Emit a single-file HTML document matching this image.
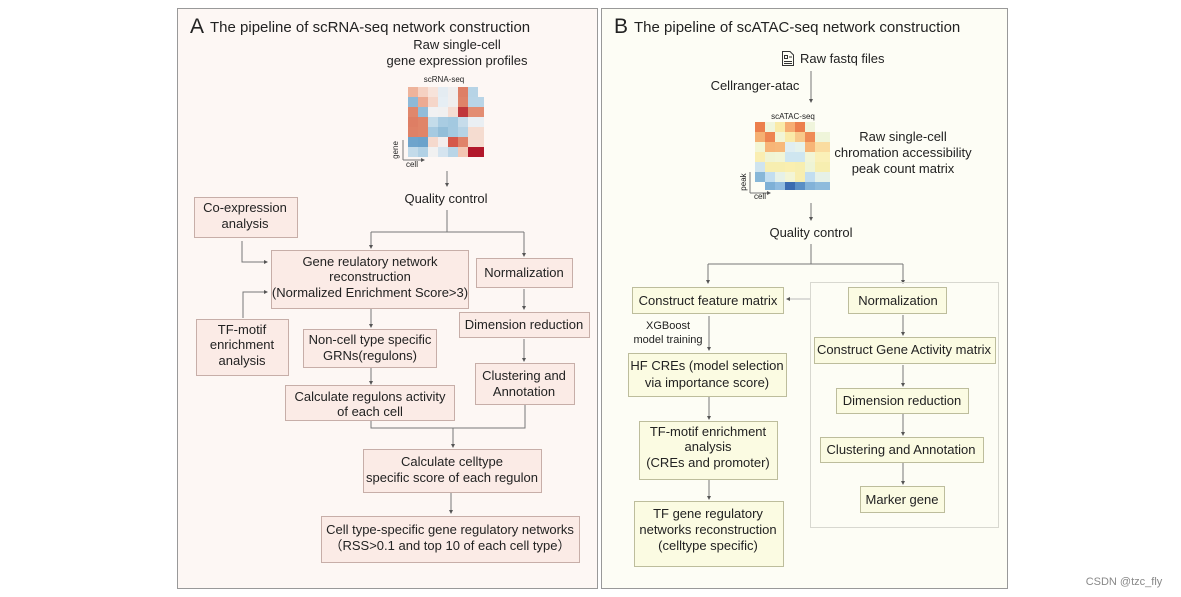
<!DOCTYPE html>
<html><head><meta charset="utf-8"><style>
html,body{margin:0;padding:0;background:#fff;}
svg{display:block;font-family:"Liberation Sans",Arial,sans-serif;}
text{font-size:13px;fill:#222;text-anchor:middle;}
.bl{fill:#fbebe6;stroke:#c7aea8;stroke-width:1;}
.br{fill:#fbfbe2;stroke:#bdbd9c;stroke-width:1;}
.ln{stroke:#777;stroke-width:1;fill:none;}
</style></head><body>
<svg width="1181" height="597" viewBox="0 0 1181 597">
<defs><marker id="a" markerWidth="4" markerHeight="4" refX="3" refY="2" orient="auto"><path d="M0,0 L4,2 L0,4z" fill="#555"/></marker></defs>
<rect x="177.5" y="8.5" width="420" height="580" fill="#fdf7f4" stroke="#999"/>
<rect x="601.5" y="8.5" width="406" height="580" fill="#fdfdf5" stroke="#999"/>
<text x="190" y="33" style="font-size:21px;text-anchor:start">A</text>
<text x="210" y="32" style="font-size:15px;text-anchor:start">The pipeline of scRNA-seq network construction</text>
<text x="614" y="33" style="font-size:21px;text-anchor:start">B</text>
<text x="634" y="32" style="font-size:15px;text-anchor:start">The pipeline of scATAC-seq network construction</text>

<!-- Left -->
<text x="457" y="49">Raw single-cell</text>
<text x="457" y="65">gene expression profiles</text>
<text x="444" y="82" style="font-size:8px">scRNA-seq</text>
<g id="hm1"></g>
<g>
<rect x="408" y="87" width="10" height="10" fill="#eeb39b"/><rect x="418" y="87" width="10" height="10" fill="#f5d1c2"/><rect x="428" y="87" width="10" height="10" fill="#f7e3da"/><rect x="438" y="87" width="10" height="10" fill="#e4ecf2"/><rect x="448" y="87" width="10" height="10" fill="#f0eeee"/><rect x="458" y="87" width="10" height="10" fill="#de7f66"/><rect x="468" y="87" width="10" height="10" fill="#b7d4e6"/>
<rect x="408" y="97" width="10" height="10" fill="#8db9d8"/><rect x="418" y="97" width="10" height="10" fill="#ecaa92"/><rect x="428" y="97" width="10" height="10" fill="#f5d6c9"/><rect x="438" y="97" width="10" height="10" fill="#e6eef4"/><rect x="448" y="97" width="10" height="10" fill="#f0eeee"/><rect x="458" y="97" width="10" height="10" fill="#df8369"/><rect x="468" y="97" width="10" height="10" fill="#b9d5e7"/><rect x="478" y="97" width="6" height="10" fill="#b9d5e7"/>
<rect x="408" y="107" width="10" height="10" fill="#e0876c"/><rect x="418" y="107" width="10" height="10" fill="#92bcd9"/><rect x="428" y="107" width="10" height="10" fill="#f1f1f2"/><rect x="438" y="107" width="10" height="10" fill="#f1f0f0"/><rect x="448" y="107" width="10" height="10" fill="#f5dcd2"/><rect x="458" y="107" width="10" height="10" fill="#c0373b"/><rect x="468" y="107" width="16" height="10" fill="#e38d72"/>
<rect x="408" y="117" width="10" height="10" fill="#de7e64"/><rect x="418" y="117" width="10" height="10" fill="#e08468"/><rect x="428" y="117" width="10" height="10" fill="#c4dcea"/><rect x="438" y="117" width="10" height="10" fill="#a9cce2"/><rect x="448" y="117" width="10" height="10" fill="#a3c9e0"/><rect x="458" y="117" width="10" height="10" fill="#c6dcea"/><rect x="468" y="117" width="16" height="10" fill="#eaeff3"/>
<rect x="408" y="127" width="10" height="10" fill="#df8166"/><rect x="418" y="127" width="10" height="10" fill="#e08468"/><rect x="428" y="127" width="10" height="10" fill="#a6cae1"/><rect x="438" y="127" width="10" height="10" fill="#93bed9"/><rect x="448" y="127" width="10" height="10" fill="#a4c9e0"/><rect x="458" y="127" width="10" height="10" fill="#b6d3e5"/><rect x="468" y="127" width="16" height="10" fill="#f5dcd0"/>
<rect x="408" y="137" width="10" height="10" fill="#6ea4cc"/><rect x="418" y="137" width="10" height="10" fill="#6aa2cb"/><rect x="428" y="137" width="10" height="10" fill="#f5d9cd"/><rect x="438" y="137" width="10" height="10" fill="#f3eded"/><rect x="448" y="137" width="10" height="10" fill="#d5584a"/><rect x="458" y="137" width="10" height="10" fill="#e0836a"/><rect x="468" y="137" width="16" height="10" fill="#f5dcd0"/>
<rect x="408" y="147" width="10" height="10" fill="#c3dbea"/><rect x="418" y="147" width="10" height="10" fill="#b1d1e5"/><rect x="428" y="147" width="10" height="10" fill="#f1f1f1"/><rect x="438" y="147" width="10" height="10" fill="#d5e4ef"/><rect x="448" y="147" width="10" height="10" fill="#b9d5e7"/><rect x="458" y="147" width="10" height="10" fill="#f3c6b3"/><rect x="468" y="147" width="16" height="10" fill="#b2182b"/>
</g>
<path class="ln" d="M403,160 V140 M403,160 H424" marker-end="url(#a)"/>
<text x="398" y="150" style="font-size:8px" transform="rotate(-90 398 150)">gene</text>
<text x="412" y="167" style="font-size:8px">cell</text>

<path class="ln" d="M447,171 V186" marker-end="url(#a)"/>
<text x="446" y="203">Quality control</text>
<path class="ln" d="M447,210 V232 M371,232 H524"/>
<path class="ln" d="M371,232 V248" marker-end="url(#a)"/>
<path class="ln" d="M524,232 V256" marker-end="url(#a)"/>

<rect class="bl" x="194.5" y="197.5" width="103" height="40"/>
<text x="245" y="212">Co-expression</text><text x="245" y="228">analysis</text>
<path class="ln" d="M242,241 V262 H267" marker-end="url(#a)"/>

<rect class="bl" x="271.5" y="250.5" width="197" height="58"/>
<text x="370" y="266">Gene reulatory network</text><text x="370" y="281">reconstruction</text><text x="370" y="297">(Normalized Enrichment Score&gt;3)</text>
<path class="ln" d="M243,318 V292 H267" marker-end="url(#a)"/>

<rect class="bl" x="196.5" y="319.5" width="92" height="56"/>
<text x="242" y="334">TF-motif</text><text x="242" y="349">enrichment</text><text x="242" y="365">analysis</text>

<rect class="bl" x="476.5" y="258.5" width="96" height="29"/>
<text x="524" y="277">Normalization</text>
<path class="ln" d="M524,289 V309" marker-end="url(#a)"/>
<rect class="bl" x="459.5" y="312.5" width="130" height="25"/>
<text x="524" y="329">Dimension reduction</text>
<path class="ln" d="M524,339 V361" marker-end="url(#a)"/>
<rect class="bl" x="475.5" y="363.5" width="99" height="41"/>
<text x="524" y="380">Clustering and</text><text x="524" y="396">Annotation</text>

<path class="ln" d="M371,309 V327" marker-end="url(#a)"/>
<rect class="bl" x="303.5" y="329.5" width="133" height="38"/>
<text x="370" y="344">Non-cell type specific</text><text x="370" y="360">GRNs(regulons)</text>
<path class="ln" d="M371,368 V384" marker-end="url(#a)"/>
<rect class="bl" x="285.5" y="385.5" width="169" height="35"/>
<text x="370" y="401">Calculate regulons activity</text><text x="370" y="416">of each cell</text>

<path class="ln" d="M371,421 V428 H525 V405"/>
<path class="ln" d="M453,428 V447" marker-end="url(#a)"/>
<rect class="bl" x="363.5" y="449.5" width="178" height="43"/>
<text x="452" y="466">Calculate celltype</text><text x="452" y="482">specific score of each regulon</text>
<path class="ln" d="M451,493 V513" marker-end="url(#a)"/>
<rect class="bl" x="321.5" y="516.5" width="258" height="46"/>
<text x="450" y="534">Cell type-specific gene regulatory networks</text><text x="450" y="550">（RSS&gt;0.1 and top 10 of each cell type）</text>

<!-- Right -->
<g stroke="#333" fill="none" stroke-width="1"><path d="M782.5,51.5 H790 L793.5,55 V65.5 H782.5Z"/><rect x="784.5" y="55.5" width="3" height="3"/><path d="M789,57 H792 M784,61.5 H792 M784,63.5 H792"/></g>
<text x="800" y="63" style="text-anchor:start">Raw fastq files</text>
<text x="755" y="90">Cellranger-atac</text>
<path class="ln" d="M811,71 V102" marker-end="url(#a)"/>
<text x="793" y="119" style="font-size:8px">scATAC-seq</text>
<g>
<rect x="755" y="122" width="10" height="10" fill="#ec7f4c"/><rect x="765" y="122" width="10" height="10" fill="#f0f5dc"/><rect x="775" y="122" width="10" height="10" fill="#faeaa8"/><rect x="785" y="122" width="10" height="10" fill="#f6ad72"/><rect x="795" y="122" width="10" height="10" fill="#ec7f4c"/><rect x="805" y="122" width="10" height="10" fill="#f0f5dc"/>
<rect x="755" y="132" width="10" height="10" fill="#f5b072"/><rect x="765" y="132" width="10" height="10" fill="#ee8450"/><rect x="775" y="132" width="10" height="10" fill="#f2f5d6"/><rect x="785" y="132" width="10" height="10" fill="#faeaa8"/><rect x="795" y="132" width="10" height="10" fill="#f8c98a"/><rect x="805" y="132" width="10" height="10" fill="#ef8b55"/><rect x="815" y="132" width="15" height="10" fill="#eff5da"/>
<rect x="755" y="142" width="10" height="10" fill="#f3f6d4"/><rect x="765" y="142" width="10" height="10" fill="#f7b577"/><rect x="775" y="142" width="10" height="10" fill="#f7b87a"/><rect x="785" y="142" width="10" height="10" fill="#e0eef2"/><rect x="795" y="142" width="10" height="10" fill="#e6f2ec"/><rect x="805" y="142" width="10" height="10" fill="#f7b577"/><rect x="815" y="142" width="15" height="10" fill="#fadca0"/>
<rect x="755" y="152" width="10" height="10" fill="#faeeb2"/><rect x="765" y="152" width="10" height="10" fill="#f0f4d4"/><rect x="775" y="152" width="10" height="10" fill="#f2f5d6"/><rect x="785" y="152" width="10" height="10" fill="#cfe6f0"/><rect x="795" y="152" width="10" height="10" fill="#cfe6f0"/><rect x="805" y="152" width="10" height="10" fill="#f2f5d6"/><rect x="815" y="152" width="15" height="10" fill="#faf0b8"/>
<rect x="755" y="162" width="10" height="10" fill="#cfe4ef"/><rect x="765" y="162" width="10" height="10" fill="#f7eeb0"/><rect x="775" y="162" width="10" height="10" fill="#f7eeb0"/><rect x="785" y="162" width="10" height="10" fill="#faefb0"/><rect x="795" y="162" width="10" height="10" fill="#f7eeb0"/><rect x="805" y="162" width="10" height="10" fill="#eef4d6"/><rect x="815" y="162" width="15" height="10" fill="#f7eeb0"/>
<rect x="755" y="172" width="10" height="10" fill="#87b7d8"/><rect x="765" y="172" width="10" height="10" fill="#c2def0"/><rect x="775" y="172" width="10" height="10" fill="#e6f1e8"/><rect x="785" y="172" width="10" height="10" fill="#f3f5d6"/><rect x="795" y="172" width="10" height="10" fill="#f8eeb0"/><rect x="805" y="172" width="10" height="10" fill="#c2def0"/><rect x="815" y="172" width="15" height="10" fill="#e6f1e8"/>
<rect x="765" y="182" width="10" height="8" fill="#7eb0d6"/><rect x="775" y="182" width="10" height="8" fill="#90bce0"/><rect x="785" y="182" width="10" height="8" fill="#3b6cb0"/><rect x="795" y="182" width="10" height="8" fill="#5a8fc5"/><rect x="805" y="182" width="10" height="8" fill="#82b2d8"/><rect x="815" y="182" width="15" height="8" fill="#8ebbdc"/>
</g>
<path class="ln" d="M750,193 V172 M750,193 H770" marker-end="url(#a)"/>
<text x="746" y="182" style="font-size:8px" transform="rotate(-90 746 182)">peak</text>
<text x="760" y="199" style="font-size:8px">cell</text>
<text x="903" y="141">Raw single-cell</text>
<text x="903" y="157">chromation accessibility</text>
<text x="903" y="173">peak count matrix</text>

<path class="ln" d="M811,203 V220" marker-end="url(#a)"/>
<text x="811" y="237">Quality control</text>
<path class="ln" d="M811,244 V264 M708,264 H903"/>
<path class="ln" d="M708,264 V283" marker-end="url(#a)"/>
<path class="ln" d="M903,264 V283" marker-end="url(#a)"/>

<rect x="810.5" y="282.5" width="188" height="245" fill="none" stroke="#d8d8d0"/>
<path d="M810,299 H787" stroke="#bbb" fill="none" marker-end="url(#a)"/>

<rect class="br" x="632.5" y="287.5" width="151" height="26"/>
<text x="708" y="305">Construct feature matrix</text>
<text x="668" y="329" style="font-size:11px">XGBoost</text><text x="668" y="343" style="font-size:11px">model training</text>
<path class="ln" d="M709,316 V350" marker-end="url(#a)"/>
<rect class="br" x="628.5" y="353.5" width="158" height="43"/>
<text x="707" y="370">HF CREs (model selection</text><text x="707" y="387">via importance score)</text>
<path class="ln" d="M709,397 V419" marker-end="url(#a)"/>
<rect class="br" x="639.5" y="421.5" width="138" height="58"/>
<text x="708" y="436">TF-motif enrichment</text><text x="708" y="451">analysis</text><text x="708" y="467">(CREs and promoter)</text>
<path class="ln" d="M709,480 V499" marker-end="url(#a)"/>
<rect class="br" x="634.5" y="501.5" width="149" height="65"/>
<text x="708" y="518">TF gene regulatory</text><text x="708" y="534">networks reconstruction</text><text x="708" y="550">(celltype specific)</text>

<rect class="br" x="848.5" y="287.5" width="98" height="26"/>
<text x="898" y="305">Normalization</text>
<path class="ln" d="M903,315 V335" marker-end="url(#a)"/>
<rect class="br" x="814.5" y="337.5" width="181" height="26"/>
<text x="904" y="354">Construct Gene Activity matrix</text>
<path class="ln" d="M903,365 V386" marker-end="url(#a)"/>
<rect class="br" x="836.5" y="388.5" width="132" height="25"/>
<text x="902" y="405">Dimension reduction</text>
<path class="ln" d="M903,414 V435" marker-end="url(#a)"/>
<rect class="br" x="820.5" y="437.5" width="163" height="25"/>
<text x="901" y="454">Clustering and Annotation</text>
<path class="ln" d="M903,463 V484" marker-end="url(#a)"/>
<rect class="br" x="860.5" y="486.5" width="84" height="26"/>
<text x="902" y="504">Marker gene</text>

<text x="1124" y="585" style="font-size:11px;fill:#888">CSDN @tzc_fly</text>
</svg>
</body></html>
